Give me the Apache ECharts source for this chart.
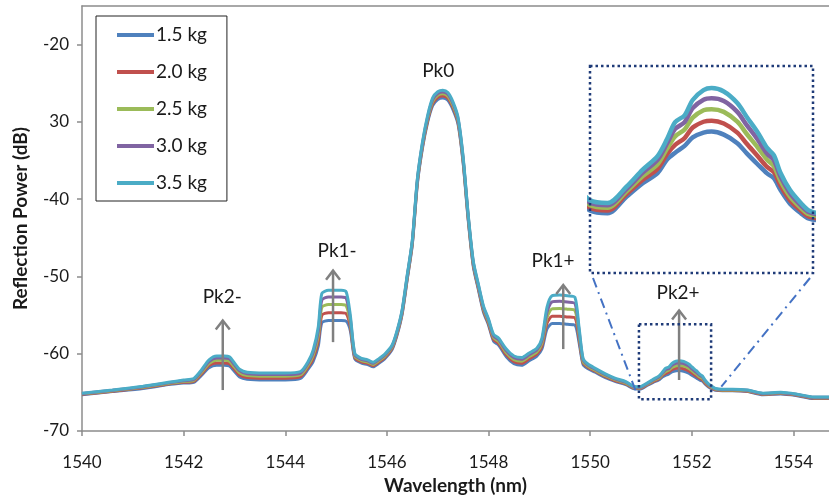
<!DOCTYPE html>
<html>
<head>
<meta charset="utf-8">
<script src="https://cdn.jsdelivr.net/npm/echarts@6/dist/echarts.min.js"></script>
<style>
  html, body { margin: 0; padding: 0; background: #fff; }
  #chart { width: 829px; height: 500px; }
</style>
</head>
<body>
<div id="chart"></div>
<script>
// Reflection spectra of the grating under different loads (wavelength in nm, power in dB)
const wavelength = [
  1540.0, 1540.6, 1541.2, 1541.7, 1542.0, 1542.2, 1542.35, 1542.5, 1542.65, 1542.8,
  1542.9, 1543.0, 1543.1, 1543.25, 1543.6, 1544.0, 1544.3, 1544.45, 1544.55, 1544.65,
  1544.72, 1544.85, 1545.0, 1545.1, 1545.2, 1545.28, 1545.37, 1545.5, 1545.62, 1545.73,
  1545.85, 1545.95, 1546.1, 1546.2, 1546.3, 1546.4, 1546.5, 1546.6, 1546.7, 1546.8,
  1546.9, 1547.0, 1547.1, 1547.2, 1547.3, 1547.4, 1547.5, 1547.6, 1547.7, 1547.8,
  1547.9, 1548.0, 1548.1, 1548.2, 1548.35, 1548.5, 1548.65, 1548.8, 1548.95, 1549.05,
  1549.15, 1549.25, 1549.4, 1549.55, 1549.7, 1549.78, 1549.86, 1549.95, 1550.1, 1550.3,
  1550.5, 1550.7, 1550.85, 1550.98, 1551.12, 1551.24, 1551.35, 1551.42, 1551.48, 1551.55,
  1551.61, 1551.69, 1551.75, 1551.84, 1551.94, 1552.01, 1552.09, 1552.16, 1552.21, 1552.26,
  1552.33, 1552.41, 1552.47, 1552.6, 1552.8, 1553.1, 1553.4, 1553.75, 1554.05, 1554.4,
  1554.7
];

const power15 = [
  -65.3, -64.9, -64.5, -64.0, -63.8, -63.7, -62.8, -61.8, -61.5, -61.5,
  -61.6, -62.3, -63.0, -63.3, -63.4, -63.4, -63.2, -62.0, -61.0, -59.0,
  -56.0, -55.7, -55.7, -55.7, -55.8, -57.0, -60.7, -61.2, -61.4, -61.7,
  -61.2, -60.7, -59.5, -57.6, -54.9, -50.4, -45.9, -38.0, -33.4, -30.1,
  -27.9, -27.1, -26.9, -27.2, -28.4, -30.3, -35.3, -42.7, -48.7, -51.7,
  -54.6, -56.3, -58.4, -58.9, -60.4, -61.3, -61.5, -60.9, -60.3, -59.4,
  -56.8, -56.1, -56.1, -56.2, -56.3, -58.5, -61.4, -61.9, -62.4, -63.1,
  -63.6, -64.0, -64.5, -64.58, -64.1, -63.7, -63.4, -63.0, -62.8, -62.6,
  -62.35, -62.21, -62.18, -62.27, -62.52, -62.82, -63.14, -63.41, -63.55, -63.9,
  -64.3, -64.58, -64.74, -64.8, -64.8, -64.9, -65.3, -65.2, -65.4, -65.8,
  -65.8
];

const power20 = [
  -65.25, -64.85, -64.42, -63.92, -63.7, -63.57, -62.62, -61.54, -61.19, -61.19,
  -61.29, -62.01, -62.74, -63.07, -63.17, -63.17, -62.97, -61.74, -60.61, -58.35,
  -55.01, -54.69, -54.69, -54.69, -54.81, -56.48, -60.52, -61.04, -61.24, -61.54,
  -61.04, -60.54, -59.34, -57.44, -54.74, -50.24, -45.74, -37.82, -33.19, -29.87,
  -27.64, -26.84, -26.64, -26.94, -28.14, -30.07, -35.09, -42.52, -48.52, -51.52,
  -54.39, -56.09, -58.17, -58.67, -60.14, -61.04, -61.24, -60.64, -60.04, -59.04,
  -56.07, -55.16, -55.14, -55.24, -55.36, -57.98, -61.19, -61.74, -62.27, -62.97,
  -63.5, -63.9, -64.42, -64.5, -64.02, -63.6, -63.27, -62.84, -62.57, -62.37,
  -62.06, -61.89, -61.86, -61.94, -62.21, -62.54, -62.9, -63.22, -63.37, -63.77,
  -64.2, -64.5, -64.68, -64.75, -64.75, -64.85, -65.25, -65.15, -65.35, -65.75,
  -65.75
];

const power25 = [
  -65.19, -64.79, -64.34, -63.84, -63.59, -63.44, -62.43, -61.27, -60.86, -60.86,
  -60.96, -61.72, -62.47, -62.82, -62.92, -62.92, -62.72, -61.47, -60.2, -57.68,
  -53.99, -53.63, -53.63, -53.63, -53.79, -55.94, -60.33, -60.88, -61.08, -61.38,
  -60.88, -60.38, -59.18, -57.28, -54.58, -50.08, -45.58, -37.63, -32.98, -29.62,
  -27.37, -26.57, -26.37, -26.67, -27.87, -29.82, -34.88, -42.33, -48.33, -51.33,
  -54.18, -55.88, -57.92, -58.42, -59.87, -60.77, -60.97, -60.37, -59.77, -58.66,
  -55.32, -54.19, -54.14, -54.24, -54.39, -57.44, -60.98, -61.58, -62.14, -62.84,
  -63.39, -63.79, -64.34, -64.42, -63.94, -63.49, -63.14, -62.68, -62.32, -62.12,
  -61.77, -61.55, -61.52, -61.6, -61.89, -62.25, -62.64, -63.01, -63.19, -63.64,
  -64.09, -64.42, -64.61, -64.69, -64.69, -64.79, -65.19, -65.09, -65.29, -65.69,
  -65.69
];

const power30 = [
  -65.14, -64.74, -64.27, -63.77, -63.49, -63.31, -62.25, -61.02, -60.56, -60.56,
  -60.66, -61.44, -62.22, -62.6, -62.7, -62.7, -62.5, -61.22, -59.83, -57.05,
  -53.04, -52.66, -52.66, -52.66, -52.84, -55.44, -60.15, -60.73, -60.93, -61.23,
  -60.73, -60.23, -59.03, -57.13, -54.43, -49.93, -45.43, -37.45, -32.78, -29.4,
  -27.12, -26.32, -26.12, -26.42, -27.62, -29.6, -34.68, -42.15, -48.15, -51.15,
  -53.98, -55.68, -57.7, -58.2, -59.62, -60.52, -60.72, -60.12, -59.52, -58.31,
  -54.62, -53.29, -53.21, -53.31, -53.49, -56.94, -60.78, -61.43, -62.01, -62.71,
  -63.29, -63.69, -64.27, -64.35, -63.87, -63.39, -63.01, -62.53, -62.1, -61.9,
  -61.49, -61.24, -61.2, -61.28, -61.6, -61.99, -62.41, -62.83, -63.02, -63.51,
  -63.99, -64.35, -64.55, -64.64, -64.64, -64.74, -65.14, -65.04, -65.24, -65.64,
  -65.64
];

const power35 = [
  -65.1, -64.7, -64.2, -63.7, -63.4, -63.2, -62.1, -60.8, -60.3, -60.3,
  -60.4, -61.2, -62.0, -62.4, -62.5, -62.5, -62.3, -61.0, -59.5, -56.5,
  -52.2, -51.8, -51.8, -51.8, -52.0, -55.0, -60.0, -60.6, -60.8, -61.1,
  -60.6, -60.1, -58.9, -57.0, -54.3, -49.8, -45.3, -37.3, -32.6, -29.2,
  -26.9, -26.1, -25.9, -26.2, -27.4, -29.4, -34.5, -42.0, -48.0, -51.0,
  -53.8, -55.5, -57.5, -58.0, -59.4, -60.3, -60.5, -59.9, -59.3, -58.0,
  -54.0, -52.5, -52.4, -52.5, -52.7, -56.5, -60.6, -61.3, -61.9, -62.6,
  -63.2, -63.6, -64.2, -64.28, -63.8, -63.3, -62.9, -62.4, -61.9, -61.7,
  -61.25, -60.96, -60.9, -61.0, -61.34, -61.75, -62.2, -62.66, -62.87, -63.4,
  -63.9, -64.28, -64.5, -64.6, -64.6, -64.7, -65.1, -65.0, -65.2, -65.6,
  -65.6
];

const loadNames = ['1.5 kg', '2.0 kg', '2.5 kg', '3.0 kg', '3.5 kg'];
const loadPowers = [power15, power20, power25, power30, power35];
const loadColors = ['#4F81BD', '#C0504D', '#9BBB59', '#8064A2', '#4BACC6'];

// Axis ticks
const yTickValues = [-70, -60, -50, -40, -30, -20];
const yTickLabels = ['-70', '-60', '-50', '-40', '30', '-20'];

// Peak annotations: arrows (x, from, to) and label positions
const peakNames = ['Pk2-', 'Pk1-', 'Pk0', 'Pk1+', 'Pk2+'];
const peakLabelX = [1542.76, 1545.02, 1547.01, 1549.27, 1551.73];
const peakLabelY = [-52.7, -46.7, -23.35, -48.0, -52.1];
const arrowX = [1542.77, 1544.94, 1549.47, 1551.75];
const arrowFrom = [-64.7, -58.5, -59.4, -63.4];
const arrowTo = [-55.7, -49.25, -51.1, -54.4];

// Region magnified in the inset: [x0, x1, yTop, yBottom]
const zoomRegion = [1550.96, 1552.38, -56.2, -65.9];
const insetX = [1550.85, 1552.5];
const insetY = [-66.34, -60.25];

const FONT = 'Lato, "Open Sans", sans-serif';
const TEXT = '#1a1a1a';
const AXIS = '#8c8c8c';

const GRID = { left: 82, right: 0, top: 6, bottom: 66 };
const INSET = { left: 590, top: 66, width: 223, height: 207 };

const chart = echarts.init(document.getElementById('chart'), null, { renderer: 'canvas' });

const series = [];
loadNames.forEach((name, k) => {
  const pts = wavelength.map((w, i) => [w, loadPowers[k][i]]);
  series.push({
    name, type: 'line', data: pts, xAxisIndex: 0, yAxisIndex: 0,
    showSymbol: false, symbol: 'none', smooth: 0.25,
    color: loadColors[k],
    lineStyle: { width: 3, color: loadColors[k] },
    z: 2 + k, animation: false
  });
});
loadNames.forEach((name, k) => {
  const pts = wavelength.map((w, i) => [w, loadPowers[k][i]]);
  series.push({
    name, type: 'line', data: pts, xAxisIndex: 2, yAxisIndex: 1,
    showSymbol: false, symbol: 'none', smooth: 0.3, clip: true,
    color: loadColors[k],
    lineStyle: { width: 4.5, color: loadColors[k] },
    z: 2 + k, animation: false
  });
});

// Arrows pointing at the side peaks
series.push({
  type: 'custom', xAxisIndex: 0, yAxisIndex: 0, z: 20, clip: false, animation: false,
  data: arrowX.map((x, i) => [x, arrowFrom[i], arrowTo[i]]),
  renderItem: function (params, api) {
    const p0 = api.coord([api.value(0), api.value(1)]);
    const p1 = api.coord([api.value(0), api.value(2)]);
    return {
      type: 'group',
      children: [
        { type: 'line', shape: { x1: p0[0], y1: p0[1], x2: p1[0], y2: p1[1] },
          style: { stroke: '#808080', lineWidth: 2.5 } },
        { type: 'polyline',
          shape: { points: [[p1[0] - 7, p1[1] + 9], [p1[0], p1[1]], [p1[0] + 7, p1[1] + 9]] },
          style: { stroke: '#808080', lineWidth: 2.5, fill: null } }
      ]
    };
  }
});

// Peak labels
series.push({
  type: 'custom', xAxisIndex: 0, yAxisIndex: 0, z: 21, clip: false, animation: false,
  data: peakLabelX.map((x, i) => [x, peakLabelY[i]]),
  renderItem: function (params, api) {
    const p = api.coord([api.value(0), api.value(1)]);
    return {
      type: 'text', x: p[0], y: p[1],
      style: { text: peakNames[params.dataIndex], fill: TEXT, fontSize: 19, fontFamily: FONT,
               align: 'center', verticalAlign: 'middle' }
    };
  }
});

// Dotted box around the magnified peak
series.push({
  type: 'custom', xAxisIndex: 0, yAxisIndex: 0, z: 22, clip: false, animation: false,
  data: [zoomRegion],
  renderItem: function (params, api) {
    const a = api.coord([api.value(0), api.value(2)]);
    const b = api.coord([api.value(1), api.value(3)]);
    return {
      type: 'rect',
      shape: { x: a[0], y: a[1], width: b[0] - a[0], height: b[1] - a[1] },
      style: { stroke: '#1F3B78', lineWidth: 2.5, lineDash: [2.5, 3], fill: null }
    };
  }
});

chart.setOption({
  animation: false,
  backgroundColor: '#fff',
  textStyle: { fontFamily: FONT },
  grid: [
    { left: GRID.left, right: GRID.right, top: GRID.top, bottom: GRID.bottom },
    { left: INSET.left, top: INSET.top, width: INSET.width, height: INSET.height }
  ],
  legend: {
    data: loadNames,
    orient: 'vertical',
    left: 96, top: 16,
    padding: [8, 20, 7, 21],
    backgroundColor: '#fff',
    borderColor: '#222', borderWidth: 1,
    icon: 'rect', itemWidth: 37, itemHeight: 4, itemGap: 15,
    textStyle: { fontSize: 19, color: TEXT, fontFamily: FONT, lineHeight: 22, padding: [0, 0, 0, -3] },
    selectedMode: false
  },
  xAxis: [
    {
      type: 'value', gridIndex: 0, min: 1540, max: 1554.7, interval: 2,
      name: 'Wavelength (nm)', nameLocation: 'middle', nameGap: 45,
      nameTextStyle: { fontSize: 19, fontWeight: 'bold', color: TEXT, fontFamily: FONT },
      axisLine: { show: true, onZero: false, lineStyle: { color: AXIS, width: 1.5 } },
      axisTick: { show: true, length: 5, lineStyle: { color: AXIS, width: 1.5 } },
      axisLabel: {
        fontSize: 17, color: TEXT, margin: 23, fontFamily: FONT, showMaxLabel: false,
        formatter: function (v) { return String(v); }
      },
      splitLine: { show: false }
    },
    {
      type: 'value', gridIndex: 0, min: 1540, max: 1554.7, position: 'top',
      axisLine: { show: true, onZero: false, lineStyle: { color: AXIS, width: 1.5 } },
      axisTick: { show: false }, axisLabel: { show: false }, splitLine: { show: false }
    },
    {
      type: 'value', gridIndex: 1, min: insetX[0], max: insetX[1], show: false
    }
  ],
  yAxis: [
    {
      type: 'value', gridIndex: 0, min: -70, max: -15, interval: 10,
      name: 'Reflection Power (dB)', nameLocation: 'middle', nameGap: 52,
      nameTextStyle: { fontSize: 19, fontWeight: 'bold', color: TEXT, fontFamily: FONT },
      axisLine: { show: true, onZero: false, lineStyle: { color: AXIS, width: 1.5 } },
      axisTick: { show: true, length: 5, lineStyle: { color: AXIS, width: 1.5 } },
      axisLabel: {
        fontSize: 17, color: TEXT, margin: 13, fontFamily: FONT, showMaxLabel: false,
        formatter: function (v) {
          const i = yTickValues.indexOf(v);
          return i >= 0 ? yTickLabels[i] : '';
        }
      },
      splitLine: { show: false }
    },
    {
      type: 'value', gridIndex: 1, min: insetY[0], max: insetY[1], show: false
    }
  ],
  series: series
});

// Inset frame and the dash-dot connectors to the magnified region
const cornerL = chart.convertToPixel({ xAxisIndex: 0, yAxisIndex: 0 }, [zoomRegion[0], zoomRegion[3]]);
const cornerR = chart.convertToPixel({ xAxisIndex: 0, yAxisIndex: 0 }, [zoomRegion[1], zoomRegion[3]]);
const insetBL = [INSET.left, INSET.top + INSET.height];
const insetBR = [INSET.left + INSET.width, INSET.top + INSET.height];
function toward(a, b, t) { return [a[0] + (b[0] - a[0]) * t, a[1] + (b[1] - a[1]) * t]; }
const endL = toward(insetBL, cornerL, 0.94);
const endR = toward(insetBR, cornerR, 0.9);

chart.setOption({
  graphic: [
    { type: 'rect', z: 30,
      shape: { x: INSET.left, y: INSET.top, width: INSET.width, height: INSET.height },
      style: { stroke: '#1F3B78', lineWidth: 2.5, lineDash: [2.5, 3], fill: null } },
    { type: 'line', z: 30,
      shape: { x1: insetBL[0] + 3, y1: insetBL[1] + 5, x2: endL[0], y2: endL[1] },
      style: { stroke: '#4472C4', lineWidth: 2, lineDash: [10, 5, 2, 5] } },
    { type: 'line', z: 30,
      shape: { x1: insetBR[0] - 3, y1: insetBR[1] + 5, x2: endR[0], y2: endR[1] },
      style: { stroke: '#4472C4', lineWidth: 2, lineDash: [10, 5, 2, 5] } }
  ]
});
</script>
</body>
</html>
